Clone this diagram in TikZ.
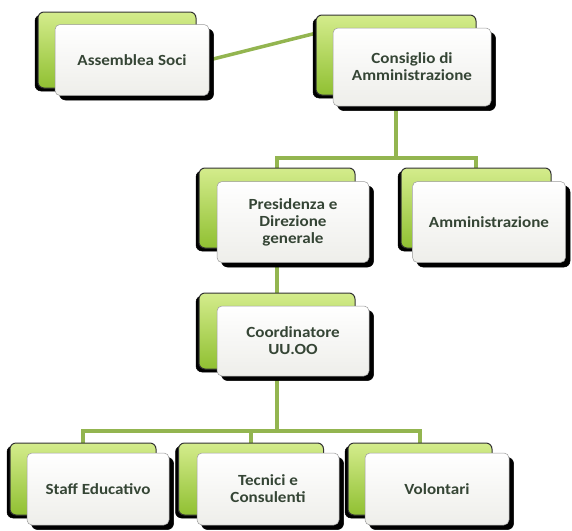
\documentclass[tikz,border=0pt]{standalone}
\usepackage{fontspec}
\setmainfont{Carlito}
\usetikzlibrary{calc,backgrounds}
\definecolor{lnk}{HTML}{93B550}
\definecolor{gtop}{HTML}{D4EC8C}
\definecolor{gmid}{HTML}{ACD44A}
\definecolor{gbot}{HTML}{90C032}
\definecolor{ffill}{HTML}{EEEEEA}
\definecolor{txt}{HTML}{354535}
\tikzset{
  shbox/.style={rounded corners=6pt, inner sep=0pt, fill=black, draw=black, line width=0.5pt},
  backbox/.style={rounded corners=6pt, inner sep=0pt, top color=gtop, middle color=gmid, bottom color=gbot,
    draw=black!80, line width=1pt},
  frontbox/.style={rounded corners=5pt, inner sep=2pt, top color=white, bottom color=ffill,
    draw=black!40, line width=0.5pt, align=center, text=txt,
    font=\fontsize{15.5}{17}\selectfont\bfseries\addfontfeature{FakeStretch=1.1}},
  link/.style={draw=lnk, line width=3.5pt}
}
\newcommand{\mkback}[5]{%
  \node[shbox, minimum width=#4pt, minimum height=#5pt] at (#2-3,#3+3) {};
  \node[backbox, minimum width=#4pt, minimum height=#5pt] (#1) at (#2,#3) {};}
\newcommand{\mkfront}[6]{%
  \node[shbox, minimum width=#4pt, minimum height=#5pt] at (#2+4.5,#3+4.5) {};
  \node[frontbox, minimum width=#4pt, minimum height=#5pt] (#1) at (#2,#3) {#6};}
\begin{document}
\begin{tikzpicture}[x=1pt,y=-1pt]
\useasboundingbox (0,0) rectangle (572,530);
\mkback{asb}{117}{50}{158}{76}
\mkfront{asf}{132}{60}{154}{71}{Assemblea Soci}
\mkback{cbk}{396}{55}{160}{80}
\mkfront{cf}{412}{67}{158}{78}{Consiglio di\\Amministrazione}
\mkback{pbk}{277}{208}{156}{80}
\mkfront{pf}{293}{222}{152}{81}{Presidenza e\\Direzione\\generale}
\mkback{abk}{476}{208}{150}{80}
\mkfront{af}{489}{222}{153}{81}{Amministrazione}
\mkback{kbk}{277}{331}{156}{76}
\mkfront{kf}{293}{341}{152}{70}{Coordinatore\\UU.OO}
\mkback{sbk}{83}{479}{146}{72}
\mkfront{sf}{98}{489}{142}{72}{Staff Educativo}
\mkback{tbk}{251}{479}{145}{72}
\mkfront{tf}{268}{489}{142}{72}{Tecnici e\\Consulenti}
\mkback{vbk}{420}{479}{144}{72}
\mkfront{vf}{437}{489}{144}{72}{Volontari}
% connectors
\coordinate (bar1) at (0,158);
\coordinate (bar2) at (0,431);
\coordinate (cin) at ($(cbk.north west)+(3,18)$);
\begin{scope}[on background layer]
\draw[link] (asf.center) -- (asf.east) -- (cin);
\draw[link] (cbk.center) -- (cbk.center |- bar1) -| (pbk.center);
\draw[link] (cbk.center |- bar1) -| (abk.center);
\draw[link] (pbk.center) -- (kbk.center);
\draw[link] (kbk.center) -- (kbk.center |- bar2) -| (sbk.center);
\draw[link] (kbk.center |- bar2) -| (vbk.center);
\draw[link] (tbk.center |- bar2) -- (tbk.center);
\end{scope}
\end{tikzpicture}
\end{document}
